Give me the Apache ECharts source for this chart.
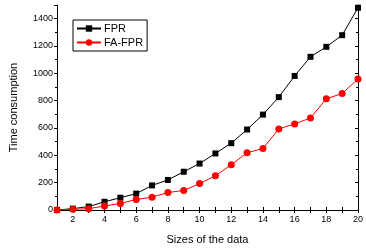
<!DOCTYPE html>
<html>
<head>
<meta charset="utf-8">
<script src="https://cdn.jsdelivr.net/npm/echarts@6/dist/echarts.min.js"></script>
<style>
  html, body { margin: 0; padding: 0; background: #fff; }
  #chart { width: 366px; height: 250px; }
</style>
</head>
<body>
<div id="chart"></div>
<script>
// sizes of the data (x) and time consumption per method
var sizes = [1, 2, 3, 4, 5, 6, 7, 8, 9, 10, 11, 12, 13, 14, 15, 16, 17, 18, 19, 20]
var fpr = [0, 10, 25, 60, 90, 120, 180, 220, 280, 340, 414, 489, 589, 698, 826, 981, 1121, 1194, 1279, 1480]
var faFpr = [0, 5, 10, 29, 48, 77, 94, 128, 143, 193, 251, 331, 419, 450, 593, 630, 673, 814, 852, 959]
var seriesNames = ['FPR', 'FA-FPR']

var font = 'Liberation Sans, Arial, sans-serif'

function pairs (xs, ys) {
  return xs.map(function (x, i) { return [x, ys[i]] })
}

var chart = echarts.init(document.getElementById('chart'))
chart.setOption({
  animation: false,
  grid: { left: 52, right: 3, top: 5, bottom: 40 },
  legend: {
    orient: 'vertical',
    left: 73,
    top: 20,
    data: seriesNames,
    borderColor: '#000',
    borderWidth: 1,
    borderRadius: 0,
    padding: [3, 4, 3, 3],
    itemGap: 3,
    itemWidth: 24,
    itemHeight: 8,
    textStyle: { fontFamily: font, fontSize: 11, color: '#000', padding: [0, 0, 0, -2] }
  },
  xAxis: [{
    type: 'value',
    min: 1,
    max: 20,
    interval: 1,
    name: 'Sizes of the data',
    nameLocation: 'middle',
    nameGap: 24,
    nameTextStyle: { fontFamily: font, fontSize: 11, color: '#000' },
    splitLine: { show: false },
    axisLine: { lineStyle: { color: '#000', width: 1 } },
    axisTick: { inside: true, length: 3, lineStyle: { color: '#000' } },
    axisLabel: {
      fontFamily: font, fontSize: 9, color: '#000', margin: 5,
      formatter: function (v) { return v % 2 === 0 ? String(v) : '' }
    }
  }, {
    type: 'value',
    position: 'top',
    min: 1,
    max: 20,
    interval: 1,
    splitLine: { show: false },
    axisLine: { lineStyle: { color: '#000', width: 1 } },
    axisTick: { inside: true, length: 3, lineStyle: { color: '#000' } },
    axisLabel: { show: false }
  }],
  yAxis: [{
    type: 'value',
    min: 0,
    max: 1500,
    interval: 200,
    name: 'Time consumption',
    nameLocation: 'middle',
    nameGap: 38,
    nameTextStyle: { fontFamily: font, fontSize: 11, color: '#000' },
    splitLine: { show: false },
    axisLine: { show: true, lineStyle: { color: '#000', width: 1 } },
    axisTick: { show: true, length: 3, lineStyle: { color: '#000' } },
    minorTick: { show: true, splitNumber: 2, length: 2, lineStyle: { color: '#000' } },
    axisLabel: {
      fontFamily: font, fontSize: 9, color: '#000', margin: 4,
      formatter: function (v) { return v % 200 === 0 ? String(v) : '' }
    }
  }, {
    type: 'value',
    position: 'right',
    min: 0,
    max: 1500,
    interval: 200,
    splitLine: { show: false },
    axisLine: { show: true, lineStyle: { color: '#000', width: 1 } },
    axisTick: { show: true, inside: true, length: 3, lineStyle: { color: '#000' } },
    minorTick: { show: true, splitNumber: 2, length: 2, lineStyle: { color: '#000' } },
    axisLabel: { show: false }
  }],
  series: [{
    name: seriesNames[0],
    type: 'line',
    data: pairs(sizes, fpr),
    symbol: 'rect',
    symbolSize: 6,
    color: '#000',
    lineStyle: { width: 1, color: '#000' },
    itemStyle: { color: '#000' }
  }, {
    name: seriesNames[1],
    type: 'line',
    data: pairs(sizes, faFpr),
    symbol: 'circle',
    symbolSize: 7,
    color: '#ff0000',
    lineStyle: { width: 1, color: '#ff0000' },
    itemStyle: { color: '#ff0000' }
  }]
})
</script>
</body>
</html>
